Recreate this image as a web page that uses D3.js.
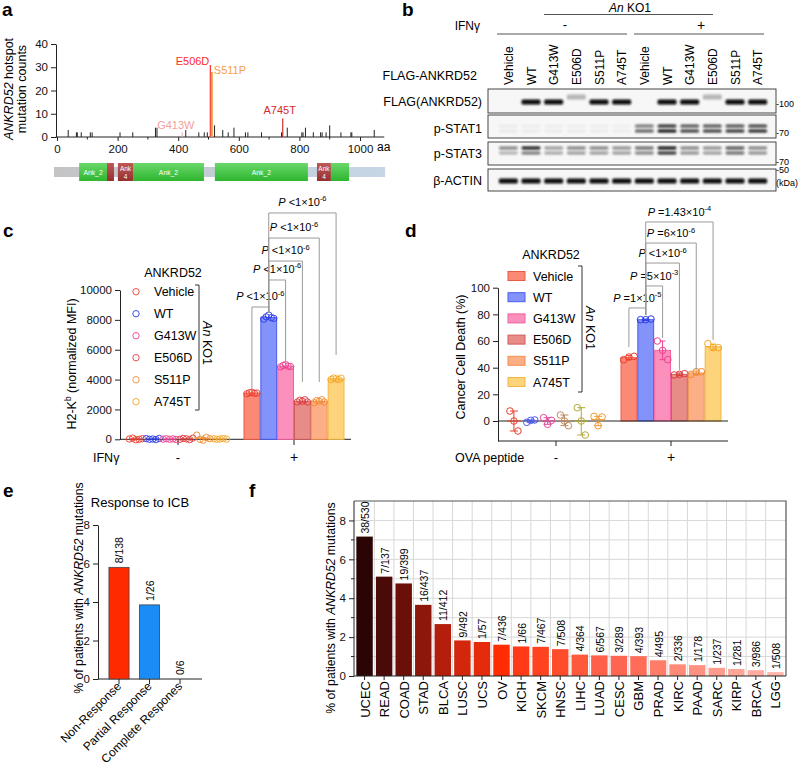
<!DOCTYPE html>
<html><head><meta charset="utf-8">
<script src="https://cdn.jsdelivr.net/npm/d3@7"></script>
<style>body{margin:0;background:#fff}svg{display:block}</style>
</head><body><svg id="fig" width="800" height="766"></svg>
<script>
// ================= DATA =================
// panel a
const aaTicks = [0, 200, 400, 600, 800, 1000];
const aaMinorTicks = [100, 300, 500, 700, 900];
const countTicks = [0, 10, 20, 30, 40];
const mutPositions = [37,64,67,80,110,116,208,250,325,330,425,468,486,496,520,547,565,584,622,630,675,741,760,808,812,820,846,870,875,888,900,937,970,973,1047];
const mutCounts    = [3, 2, 2, 2, 2, 2, 2, 2, 4, 4, 3, 2, 2, 2, 5, 3, 2, 4, 2, 2, 2, 2, 4, 2, 2, 4, 2, 2, 2, 2, 5, 2, 2, 2, 3];
const hotspotNames = ["G413W", "E506D", "S511P", "A745T"];
const hotspotPositions = [413, 506, 511, 745];
const hotspotCounts = [2, 31, 28, 8];
const domainNames = ["Ank_2", "", "Ank|4", "Ank_2", "Ank_2", "Ank|4", ""];
const domainStart = [73, 165, 201, 251, 521, 858, 904];
const domainEnd   = [165, 188, 251, 485, 828, 904, 964];
const domainKind  = ["g", "r", "r", "g", "g", "r", "g"];

// panel b (western blot band intensities, 0..1)
const laneLabels = ["Vehicle","WT","G413W","E506D","S511P","A745T","Vehicle","WT","G413W","E506D","S511P","A745T"];
const rowLabels = ["FLAG(ANKRD52)", "p-STAT1", "p-STAT3", "β-ACTIN"];
const flagBand    = [0, 1, 1, 0.28, 1, 1, 0, 1, 1, 0.28, 1, 1];
const pstat1Upper = [0.05,0.04,0.04,0.04,0.04,0.03, 0.55,0.85,0.7,0.7,0.72,0.78];
const pstat1Lower = [0.06,0.05,0.05,0.05,0.05,0.04, 0.65,1.0,0.8,0.8,0.85,0.9];
const pstat3Upper = [0.5,0.95,0.4,0.5,0.5,0.45, 0.6,1.0,0.5,0.45,0.7,0.5];
const pstat3Lower = [0.3,0.55,0.35,0.4,0.4,0.4, 0.5,0.85,0.45,0.4,0.6,0.45];
const actinBand   = [1,1,1,1,1,1,1,1,1,1,1,1];
const markerLabels = ["-100", "-70", "-70", "-50", "(kDa)"];

// panel c
const groups = ["-", "+"];
const constructs = ["Vehicle", "WT", "G413W", "E506D", "S511P", "A745T"];
const cTicks = [0, 2000, 4000, 6000, 8000, 10000];
const cPlusMeans = [3100, 8150, 4900, 2550, 2550, 4050];
const cPlusPoints = [
  [3050, 3120, 3150, 3080, 3100],
  [8050, 8200, 8320, 8150, 8100],
  [4850, 4950, 5000, 4900, 4870],
  [2500, 2620, 2550, 2650, 2500],
  [2450, 2600, 2550, 2650, 2500],
  [4000, 4100, 4050, 4000, 4100]];
const cMinusPoints = [
  [20, 80, -30, 0, 40],
  [50, 0, 20, -20, 60],
  [10, 40, 0, 30, -10],
  [0, 60, 30, -20, 80],
  [280, 0, -60, 120, 40],
  [30, 0, 20, 50, 10]];
const cSigLeft = [0, 1, 1, 1, 1];
const cSigRight = [1, 2, 3, 4, 5];
const cSigTop = [8860, 10670, 11940, 13480, 15160];
const cSigLeftEnd = [3300, 8460, 8460, 8460, 8460];
const cSigRightEnd = [8460, 5100, 3840, 3840, 5650];
const cSigText = ["<1×10", "<1×10", "<1×10", "<1×10", "<1×10"];
const cSigExp = ["-6", "-6", "-6", "-6", "-6"];

// panel d
const dTicks = [0, 20, 40, 60, 80, 100];
const dPlusMeans = [47.5, 76, 53, 35, 36, 55.7];
const dPlusErr = [1.5, 0.5, 7, 1, 1.5, 2];
const dPlusPoints = [
  [46, 48, 48.5], [76, 76, 76.5], [60, 53, 46],
  [34.5, 35, 35.5], [35, 37, 37], [58, 55, 55]];
const dMinusPoints = [
  [7.5, 0, -7.5], [-1, 0.5, 0.8], [2.5, -2.5, 0.5],
  [4.5, 0, -3.5], [10, 0, -10.5], [3.5, -3.5, 3]];
const dSigLeft = [0, 1, 1, 1, 1];
const dSigRight = [1, 2, 3, 4, 5];
const dSigTop = [84.8, 101.3, 118.5, 133.5, 149.3];
const dSigLeftEnd = [55.5, 79.5, 79.5, 79.5, 79.5];
const dSigRightEnd = [79.5, 62.3, 38.3, 38.3, 60.8];
const dSigText = ["=1×10", "=5×10", "<1×10", "=6×10", "=1.43×10"];
const dSigExp = ["-5", "-3", "-6", "-6", "-4"];

// panel e
const responseCats = ["Non-Response", "Partial Response", "Complete Respones"];
const responseValues = [5.8, 3.85, 0];
const responseLabels = ["8/138", "1/26", "0/6"];
const eTicks = [0, 2, 4, 6, 8];

// panel f
const cancerTypes = ["UCEC","READ","COAD","STAD","BLCA","LUSC","UCS","OV","KICH","SKCM","HNSC","LIHC","LUAD","CESC","GBM","PRAD","KIRC","PAAD","SARC","KIRP","BRCA","LGG"];
const cancerValues = [7.17,5.11,4.76,3.66,2.67,1.83,1.75,1.61,1.52,1.50,1.38,1.10,1.06,1.04,1.02,0.81,0.60,0.56,0.42,0.36,0.30,0.20];
const cancerLabels = ["38/530","7/137","19/399","16/437","11/412","9/492","1/57","7/436","1/66","7/467","7/508","4/364","6/567","3/289","4/393","4/495","2/336","1/178","1/237","1/281","3/986","1/508"];
const fTicks = [0, 2, 4, 6, 8];
const fMinor = [1, 3, 5, 7];
const fGrid = [1, 2, 3, 4, 5, 6, 7, 8];

// ================= STYLE =================
const FONT = '"Liberation Sans", Arial, Helvetica, sans-serif';
const barFill   = ["#fa8a76", "#8393fa", "#fb90bc", "#e88c88", "#fcae86", "#fdd37c"];
const barStroke = ["#ee5a46", "#4a5cf0", "#f2609e", "#d05e5c", "#f2904e", "#f0b840"];
const ptStroke  = ["#ee3b2b", "#2a3ae8", "#ee3f8f", "#e03a3a", "#f08a30", "#f5a623"];
const dMinusColor = ["#e8402c", "#4a5cf0", "#e0509a", "#c08a60", "#b0a838", "#f09a30"];
const fColors = ["#2b0505","#4a0a07","#6c0f09","#8e170c","#b31e0d","#d2260d","#e52b0c","#ff2c04","#ff3a16","#ff421f","#ff4c2b","#ff593c","#ff6049","#ff6651","#ff6c58","#ff7c69","#ff8a78","#ff9180","#ff9b8d","#ffa598","#ffaba0","#ffb5ab"];
const intFmt = d3.format("d");

const svg = d3.select("#fig").style("font-family", FONT);
const defs = svg.append("defs");
defs.append("filter").attr("id", "blur").attr("x", "-20%").attr("y", "-100%").attr("width", "140%").attr("height", "300%")
  .append("feGaussianBlur").attr("stdDeviation", 0.8);
const gg = defs.append("linearGradient").attr("id", "gGreen").attr("x1", 0).attr("y1", 0).attr("x2", 0).attr("y2", 1);
gg.append("stop").attr("offset", 0).attr("stop-color", "#6ad86a");
gg.append("stop").attr("offset", 1).attr("stop-color", "#2eb52e");
const gr = defs.append("linearGradient").attr("id", "gRed").attr("x1", 0).attr("y1", 0).attr("x2", 0).attr("y2", 1);
gr.append("stop").attr("offset", 0).attr("stop-color", "#c05858");
gr.append("stop").attr("offset", 1).attr("stop-color", "#963030");
const gy = defs.append("linearGradient").attr("id", "gGrey").attr("x1", 0).attr("y1", 0).attr("x2", 1).attr("y2", 0);
gy.append("stop").attr("offset", 0).attr("stop-color", "#c4c4c4");
gy.append("stop").attr("offset", 1).attr("stop-color", "#c6d6e6");

function panelLabel(t, x, y) {
  svg.append("text").attr("x", x).attr("y", y).attr("font-size", 19).attr("font-weight", "bold").text(t);
}
function styleAxis(g, fs) {
  g.selectAll("path,line").attr("stroke", "#222").attr("stroke-width", 1);
  g.selectAll("text").attr("font-family", FONT).attr("font-size", fs).attr("fill", "#111");
}

// ================= PANEL A =================
panelLabel("a", 2, 16);
const xA = d3.scaleLinear().domain([0, 1000]).range([57, 360]);
const yA = d3.scaleLinear().domain([0, 40]).range([137, 44]);
const gA = svg.append("g");
const axA = gA.append("g").attr("transform", "translate(56,0)").call(d3.axisLeft(yA).tickValues(countTicks).tickFormat(intFmt).tickSize(5).tickSizeOuter(0).tickPadding(3));
styleAxis(axA, 11.5);
const axAx = gA.append("g").attr("transform", "translate(0,137)").call(d3.axisBottom(xA).tickValues(aaTicks).tickFormat(intFmt).tickSize(4).tickSizeOuter(0).tickPadding(4));
axAx.select(".domain").remove();
styleAxis(axAx, 11.5);
gA.append("line").attr("x1", xA(-4)).attr("x2", xA(1080)).attr("y1", 137).attr("y2", 137).attr("stroke", "#222");
gA.selectAll(".mt").data(aaMinorTicks).enter().append("line").attr("x1", d => xA(d)).attr("x2", d => xA(d))
  .attr("y1", 137).attr("y2", 139.5).attr("stroke", "#222");
gA.append("text").attr("x", 377).attr("y", 151).attr("font-size", 12).text("aa");
gA.selectAll(".mut").data(mutPositions).enter().append("line")
  .attr("x1", d => xA(d)).attr("x2", d => xA(d)).attr("y1", yA(0)).attr("y2", (d, i) => yA(mutCounts[i]))
  .attr("stroke", "#222").attr("stroke-width", 1);
const hsColor = ["#f4a09c", "#ff2a2a", "#f7a043", "#d42b2b"];
const hsWidth = [1, 1.2, 2, 1.2];
gA.selectAll(".hs").data(hotspotPositions).enter().append("line")
  .attr("x1", d => xA(d)).attr("x2", d => xA(d)).attr("y1", yA(0)).attr("y2", (d, i) => yA(hotspotCounts[i]))
  .attr("stroke", (d, i) => hsColor[i]).attr("stroke-width", (d, i) => hsWidth[i]);
const hsDx = [-25, -1, 2, -3];
const hsDy = [-3, 0, 2, -4];
const hsAnchor = ["start", "end", "start", "middle"];
gA.selectAll(".hsl").data(hotspotNames).enter().append("text")
  .attr("x", (d, i) => xA(hotspotPositions[i]) + hsDx[i])
  .attr("y", (d, i) => yA(hotspotCounts[i]) + hsDy[i])
  .attr("text-anchor", (d, i) => hsAnchor[i]).attr("font-size", 11)
  .attr("fill", (d, i) => hsColor[i]).text(d => d);
const yl = gA.append("text").attr("transform", "translate(13,89) rotate(-90)").attr("text-anchor", "middle").attr("font-size", 12.5);
yl.append("tspan").attr("font-style", "italic").text("ANKRD52");
yl.append("tspan").text(" hotspot");
gA.append("text").attr("transform", "translate(26,89) rotate(-90)").attr("text-anchor", "middle").attr("font-size", 12.5).text("mutation counts");
gA.append("rect").attr("x", xA(-10)).attr("width", xA(1083) - xA(-10)).attr("y", 167).attr("height", 10).attr("fill", "url(#gGrey)");
domainStart.forEach((s, i) => {
  const x0 = xA(s), x1 = xA(domainEnd[i]);
  gA.append("rect").attr("x", x0).attr("width", x1 - x0).attr("y", 163).attr("height", 18)
    .attr("fill", domainKind[i] === "g" ? "url(#gGreen)" : "url(#gRed)");
  const nm = domainNames[i];
  if (nm.includes("|")) {
    const parts = nm.split("|");
    gA.append("text").attr("x", (x0 + x1) / 2).attr("y", 170.5).attr("text-anchor", "middle").attr("font-size", 6.5).attr("fill", "#fff").text(parts[0]);
    gA.append("text").attr("x", (x0 + x1) / 2).attr("y", 179).attr("text-anchor", "middle").attr("font-size", 6.5).attr("fill", "#fff").text(parts[1]);
  } else if (nm) {
    gA.append("text").attr("x", (x0 + x1) / 2).attr("y", 174.5).attr("text-anchor", "middle").attr("font-size", 6.8).attr("fill", "#fff").text(nm);
  }
});

// ================= PANEL B =================
panelLabel("b", 402, 16);
const gB = svg.append("g");
const xB = d3.scaleBand().domain(d3.range(12)).range([497, 769]);
const lc = i => xB(i) + xB.bandwidth() / 2;
const kt = gB.append("text").attr("x", 630).attr("y", 11.5).attr("text-anchor", "middle").attr("font-size", 12);
kt.append("tspan").attr("font-style", "italic").text("An");
kt.append("tspan").text(" KO1");
gB.append("line").attr("x1", 544).attr("x2", 713).attr("y1", 14.5).attr("y2", 14.5).attr("stroke", "#555");
gB.append("text").attr("x", 480).attr("y", 30).attr("text-anchor", "end").attr("font-size", 12).text("IFNγ");
gB.append("text").attr("x", (lc(2) + lc(3)) / 2).attr("y", 29).attr("text-anchor", "middle").attr("font-size", 13).text("-");
gB.append("text").attr("x", (lc(8) + lc(9)) / 2).attr("y", 30).attr("text-anchor", "middle").attr("font-size", 14).text("+");
gB.append("line").attr("x1", 497).attr("x2", 627).attr("y1", 34).attr("y2", 34).attr("stroke", "#555");
gB.append("line").attr("x1", 634).attr("x2", 764).attr("y1", 34).attr("y2", 34).attr("stroke", "#555");
gB.selectAll(".ll").data(laneLabels).enter().append("text")
  .attr("transform", (d, i) => `translate(${lc(i) + 4.5},85) rotate(-90)`)
  .attr("font-size", 12).text(d => d);
gB.append("text").attr("x", 477).attr("y", 80).attr("text-anchor", "end").attr("font-size", 12.5).text("FLAG-ANKRD52");
const boxes = [[89, 113], [115, 138], [142, 165], [169, 191]];
const labelY = [106, 133, 158, 185];
rowLabels.forEach((r, i) => {
  gB.append("text").attr("x", 482).attr("y", labelY[i]).attr("text-anchor", "end").attr("font-size", 12.5).text(r);
  gB.append("rect").attr("x", 488).attr("y", boxes[i][0]).attr("width", 288).attr("height", boxes[i][1] - boxes[i][0])
    .attr("fill", "#f7f7f7").attr("stroke", "#333").attr("stroke-width", 0.9);
});
function bands(vals, cy, h, dyFn) {
  gB.selectAll(null).data(vals).enter().append("rect")
    .attr("x", (d, i) => lc(i) - 9.5).attr("width", 19)
    .attr("y", (d, i) => cy + (dyFn ? dyFn(i) : 0) - h / 2).attr("height", h).attr("rx", 1.5)
    .attr("fill", "#0d0d0d").attr("opacity", d => d).attr("filter", "url(#blur)");
}
bands(flagBand, 102, 5, i => (i === 3 || i === 9) ? -5 : 0);
bands(pstat1Upper, 126, 3);
bands(pstat1Lower, 131, 3.2);
bands(pstat3Upper, 148, 2.8);
bands(pstat3Lower, 153, 2.8);
bands(actinBand, 181, 5);
const mkY = [107, 136, 164.5, 173, 185.5];
markerLabels.forEach((m, i) => {
  gB.append("text").attr("x", 776).attr("y", mkY[i]).attr("font-size", 9).text(m);
});

// ================= helpers for c / d =================
function pText(g, x, y, rel, exp) {
  const t = g.append("text").attr("x", x).attr("y", y).attr("text-anchor", "middle").attr("font-size", 11);
  t.append("tspan").attr("font-style", "italic").text("P");
  t.append("tspan").text(" " + rel);
  t.append("tspan").attr("dy", -4.5).attr("font-size", 7.5).text(exp);
}
const inner = d3.scaleBand().domain(constructs).range([-50, 50]).paddingInner(0.06);
const ic = c => inner(c) + inner.bandwidth() / 2;

// ================= PANEL C =================
panelLabel("c", 3, 237);
const gC = svg.append("g");
const xC = d3.scalePoint().domain(groups).range([178, 294]);
const yC = d3.scaleLinear().domain([0, 10000]).range([439.3, 290]);
const axC = gC.append("g").attr("transform", "translate(120,0)").call(d3.axisLeft(yC).tickValues(cTicks).tickFormat(intFmt).tickSize(5).tickSizeOuter(0).tickPadding(3));
styleAxis(axC, 11.5);
gC.append("line").attr("x1", 120).attr("x2", 351).attr("y1", 439.3).attr("y2", 439.3).attr("stroke", "#222");
groups.forEach(g => {
  gC.append("line").attr("x1", xC(g)).attr("x2", xC(g)).attr("y1", 439.3).attr("y2", 445).attr("stroke", "#222");
  gC.append("text").attr("x", xC(g)).attr("y", 462).attr("text-anchor", "middle").attr("font-size", g === "+" ? 14 : 13).text(g);
});
gC.append("text").attr("x", 93).attr("y", 462).attr("font-size", 12.5).text("IFNγ");
const ylc = gC.append("text").attr("transform", "translate(76,364) rotate(-90)").attr("text-anchor", "middle").attr("font-size", 12.5);
ylc.append("tspan").text("H2-K");
ylc.append("tspan").attr("dy", -5).attr("font-size", 8.5).text("b");
ylc.append("tspan").attr("dy", 5).text(" (normalized MFI)");
gC.selectAll(".bar").data(constructs).enter().append("rect")
  .attr("x", c => xC("+") + inner(c)).attr("width", inner.bandwidth())
  .attr("y", (c, i) => yC(cPlusMeans[i])).attr("height", (c, i) => yC(0) - yC(cPlusMeans[i]))
  .attr("fill", (c, i) => barFill[i]).attr("stroke", (c, i) => barStroke[i]).attr("stroke-width", 1);
const jit5 = [-5, -2.5, 0, 2.5, 5];
constructs.forEach((c, i) => {
  cPlusPoints[i].forEach((v, j) => {
    gC.append("circle").attr("cx", xC("+") + ic(c) + jit5[j]).attr("cy", yC(v)).attr("r", 3.2)
      .attr("fill", "none").attr("stroke", ptStroke[i]).attr("stroke-width", 0.9);
  });
  const m = d3.mean(cMinusPoints[i]);
  gC.append("line").attr("x1", xC("-") + ic(c) - 6).attr("x2", xC("-") + ic(c) + 6)
    .attr("y1", yC(m)).attr("y2", yC(m)).attr("stroke", ptStroke[i]).attr("stroke-width", 1.2);
  gC.append("line").attr("x1", xC("-") + ic(c)).attr("x2", xC("-") + ic(c))
    .attr("y1", yC(d3.min(cMinusPoints[i]))).attr("y2", yC(d3.max(cMinusPoints[i]))).attr("stroke", ptStroke[i]);
  cMinusPoints[i].forEach((v, j) => {
    gC.append("circle").attr("cx", xC("-") + ic(c) + jit5[j] * 1.3).attr("cy", yC(v)).attr("r", 3.2)
      .attr("fill", "none").attr("stroke", ptStroke[i]).attr("stroke-width", 0.9);
  });
});
gC.append("text").attr("x", 173).attr("y", 277).attr("text-anchor", "middle").attr("font-size", 12.5).text("ANKRD52");
constructs.forEach((c, i) => {
  const y = 291.7 + i * 22;
  gC.append("circle").attr("cx", 136).attr("cy", y).attr("r", 3.2).attr("fill", "none").attr("stroke", ptStroke[i]).attr("stroke-width", 0.9);
  gC.append("text").attr("x", 154).attr("y", y + 4.5).attr("font-size", 12.5).text(c);
});
gC.append("path").attr("d", "M195,285H199V410H195").attr("fill", "none").attr("stroke", "#333");
const ktc = gC.append("text").attr("transform", "translate(203,343) rotate(90)").attr("text-anchor", "middle").attr("font-size", 12.5);
ktc.append("tspan").attr("font-style", "italic").text("An");
ktc.append("tspan").text(" KO1");
cSigLeft.forEach((l, k) => {
  const lx = xC("+") + ic(constructs[l]), rx = xC("+") + ic(constructs[cSigRight[k]]);
  const top = yC(cSigTop[k]);
  gC.append("path").attr("d", `M${lx},${yC(cSigLeftEnd[k])}V${top}H${rx}V${yC(cSigRightEnd[k])}`)
    .attr("fill", "none").attr("stroke", "#9a9a9a").attr("stroke-width", 1);
  pText(gC, (lx + rx) / 2, top - 7, cSigText[k], cSigExp[k]);
});

// ================= PANEL D =================
panelLabel("d", 405, 237);
const gD = svg.append("g");
const xD = d3.scalePoint().domain(groups).range([556, 671]);
const yD = d3.scaleLinear().domain([-15, 100]).range([441, 287.7]);
const axD = gD.append("g").attr("transform", "translate(498,0)").call(d3.axisLeft(yD).tickValues(dTicks).tickFormat(intFmt).tickSize(5).tickSizeOuter(0).tickPadding(3));
styleAxis(axD, 11.5);
gD.append("line").attr("x1", 498).attr("x2", 728).attr("y1", yD(-15)).attr("y2", yD(-15)).attr("stroke", "#222");
groups.forEach(g => {
  gD.append("line").attr("x1", xD(g)).attr("x2", xD(g)).attr("y1", yD(-15)).attr("y2", yD(-15) + 5).attr("stroke", "#222");
  gD.append("text").attr("x", xD(g)).attr("y", 462).attr("text-anchor", "middle").attr("font-size", g === "+" ? 14 : 13).text(g);
});
gD.append("text").attr("x", 455).attr("y", 462).attr("font-size", 12.5).text("OVA peptide");
gD.append("text").attr("transform", "translate(465,357) rotate(-90)").attr("text-anchor", "middle").attr("font-size", 12.5).text("Cancer Cell Death (%)");
gD.selectAll(".bar").data(constructs).enter().append("rect")
  .attr("x", c => xD("+") + inner(c)).attr("width", inner.bandwidth())
  .attr("y", (c, i) => yD(dPlusMeans[i])).attr("height", (c, i) => yD(0) - yD(dPlusMeans[i]))
  .attr("fill", (c, i) => barFill[i]).attr("stroke", (c, i) => barStroke[i]).attr("stroke-width", 1);
gD.append("line").attr("x1", 498).attr("x2", 728).attr("y1", yD(0)).attr("y2", yD(0)).attr("stroke", "#222");
const jit3 = [-4, 0, 4];
constructs.forEach((c, i) => {
  const cx = xD("+") + ic(c);
  const lo = dPlusMeans[i] - dPlusErr[i], hi = dPlusMeans[i] + dPlusErr[i];
  gD.append("path").attr("d", `M${cx - 3},${yD(hi)}H${cx + 3}M${cx},${yD(hi)}V${yD(lo)}M${cx - 3},${yD(lo)}H${cx + 3}`)
    .attr("stroke", ptStroke[i]).attr("fill", "none");
  dPlusPoints[i].forEach((v, j) => {
    gD.append("circle").attr("cx", cx + jit3[j] * 1.3).attr("cy", yD(v)).attr("r", 3.3)
      .attr("fill", "none").attr("stroke", ptStroke[i]).attr("stroke-width", 1);
  });
  const mx = xD("-") + ic(c), pts = dMinusPoints[i], m = d3.mean(pts);
  gD.append("path").attr("d", `M${mx - 4},${yD(d3.max(pts))}H${mx + 4}M${mx},${yD(d3.max(pts))}V${yD(d3.min(pts))}M${mx - 4},${yD(d3.min(pts))}H${mx + 4}M${mx - 7},${yD(m)}H${mx + 7}`)
    .attr("stroke", dMinusColor[i]).attr("fill", "none");
  pts.forEach((v, j) => {
    gD.append("circle").attr("cx", mx + jit3[j]).attr("cy", yD(v)).attr("r", 3.3)
      .attr("fill", "none").attr("stroke", dMinusColor[i]).attr("stroke-width", 1);
  });
});
gD.append("text").attr("x", 551).attr("y", 259).attr("text-anchor", "middle").attr("font-size", 12.5).text("ANKRD52");
constructs.forEach((c, i) => {
  const y = 276 + i * 21.2;
  gD.append("rect").attr("x", 508).attr("y", y - 4.5).attr("width", 17).attr("height", 9)
    .attr("fill", barFill[i]).attr("stroke", barStroke[i]);
  gD.append("text").attr("x", 533).attr("y", y + 4.5).attr("font-size", 12.5).text(c);
});
gD.append("path").attr("d", "M578,266H582V392H578").attr("fill", "none").attr("stroke", "#333");
const ktd = gD.append("text").attr("transform", "translate(586,328) rotate(90)").attr("text-anchor", "middle").attr("font-size", 12.5);
ktd.append("tspan").attr("font-style", "italic").text("An");
ktd.append("tspan").text(" KO1");
dSigLeft.forEach((l, k) => {
  const lx = xD("+") + ic(constructs[l]), rx = xD("+") + ic(constructs[dSigRight[k]]);
  const top = yD(dSigTop[k]);
  gD.append("path").attr("d", `M${lx},${yD(dSigLeftEnd[k])}V${top}H${rx}V${yD(dSigRightEnd[k])}`)
    .attr("fill", "none").attr("stroke", "#9a9a9a").attr("stroke-width", 1);
  pText(gD, (lx + rx) / 2, top - 6, dSigText[k], dSigExp[k]);
});

// ================= PANEL E =================
panelLabel("e", 3, 497);
const gE = svg.append("g");
const xE = d3.scaleBand().domain(responseCats).range([103.75, 195.25]).paddingInner(0.34).paddingOuter(0.17);
const yE = d3.scaleLinear().domain([0, 8]).range([679, 525]);
const axE = gE.append("g").attr("transform", "translate(98,0)").call(d3.axisLeft(yE).tickValues(eTicks).tickSize(5).tickSizeOuter(0).tickPadding(3));
styleAxis(axE, 11.5);
gE.append("line").attr("x1", 98).attr("x2", 202).attr("y1", 679).attr("y2", 679).attr("stroke", "#222");
const eFill = ["#ff2a00", "#1b8cf5", "#888"];
gE.selectAll(".bar").data(responseCats).enter().append("rect")
  .attr("x", c => xE(c)).attr("width", xE.bandwidth())
  .attr("y", (c, i) => yE(responseValues[i])).attr("height", (c, i) => yE(0) - yE(responseValues[i]))
  .attr("fill", (c, i) => eFill[i]).attr("stroke", "#444").attr("stroke-width", 0.8);
responseCats.forEach((c, i) => {
  const cx = xE(c) + xE.bandwidth() / 2;
  gE.append("line").attr("x1", cx).attr("x2", cx).attr("y1", 679).attr("y2", 684).attr("stroke", "#222");
  gE.append("text").attr("transform", `translate(${cx + 4},${yE(responseValues[i]) - 4}) rotate(-90)`).attr("font-size", 10.5).text(responseLabels[i]);
  gE.append("text").attr("transform", `translate(${cx + 3},687) rotate(-45)`).attr("text-anchor", "end").attr("font-size", 12).text(c);
});
gE.append("text").attr("x", 140).attr("y", 507).attr("text-anchor", "middle").attr("font-size", 13).text("Response to ICB");
const yle = gE.append("text").attr("transform", "translate(83,588) rotate(-90)").attr("text-anchor", "middle").attr("font-size", 12.2);
yle.append("tspan").text("% of patients with ");
yle.append("tspan").attr("font-style", "italic").text("ANKRD52");
yle.append("tspan").text(" mutations");

// ================= PANEL F =================
panelLabel("f", 249, 497);
const gF = svg.append("g");
const fRight = 786;
const xF = d3.scaleBand().domain(cancerTypes).range([354, fRight]).paddingInner(0.16).paddingOuter(0.12);
const yF = d3.scaleLinear().domain([0, 9]).range([676, 501]);
gF.selectAll(".hg").data(fGrid).enter().append("line").attr("x1", 354).attr("x2", fRight)
  .attr("y1", d => yF(d)).attr("y2", d => yF(d)).attr("stroke", "#d8d8d8").attr("stroke-width", 1);
gF.selectAll(".vg").data(cancerTypes.slice(1)).enter().append("line")
  .attr("x1", d => xF(d) - xF.step() * xF.paddingInner() / 2).attr("x2", d => xF(d) - xF.step() * xF.paddingInner() / 2)
  .attr("y1", yF(9)).attr("y2", yF(0)).attr("stroke", "#d8d8d8").attr("stroke-width", 1);
gF.append("path").attr("d", `M354,${yF(9)}H${fRight}V${yF(0)}`).attr("fill", "none").attr("stroke", "#555").attr("stroke-width", 1.2);
gF.selectAll(".bar").data(cancerTypes).enter().append("rect")
  .attr("x", d => xF(d)).attr("width", xF.bandwidth())
  .attr("y", (d, i) => yF(cancerValues[i])).attr("height", (d, i) => yF(0) - yF(cancerValues[i]))
  .attr("fill", (d, i) => fColors[i]);
const axF = gF.append("g").attr("transform", "translate(354,0)").call(d3.axisLeft(yF).tickValues(fTicks).tickSize(5).tickSizeOuter(0).tickPadding(3));
styleAxis(axF, 11.5);
axF.select(".domain").attr("d", `M0,${yF(9)}V${yF(0)}`);
gF.selectAll(".mn").data(fMinor).enter().append("line").attr("x1", 351).attr("x2", 354)
  .attr("y1", d => yF(d)).attr("y2", d => yF(d)).attr("stroke", "#222");
gF.append("line").attr("x1", 354).attr("x2", fRight).attr("y1", yF(0)).attr("y2", yF(0)).attr("stroke", "#222");
cancerTypes.forEach((c, i) => {
  const cx = xF(c) + xF.bandwidth() / 2;
  gF.append("line").attr("x1", cx).attr("x2", cx).attr("y1", yF(0)).attr("y2", yF(0) + 4).attr("stroke", "#222");
  gF.append("text").attr("transform", `translate(${cx + 4.5},${yF(cancerValues[i]) - 3}) rotate(-90)`).attr("font-size", 10.5).text(cancerLabels[i]);
  gF.append("text").attr("transform", `translate(${cx + 5},681) rotate(-90)`).attr("text-anchor", "end").attr("font-size", 13).text(c);
});
const ylf = gF.append("text").attr("transform", "translate(335,608) rotate(-90)").attr("text-anchor", "middle").attr("font-size", 12.2);
ylf.append("tspan").text("% of patients with ");
ylf.append("tspan").attr("font-style", "italic").text("ANKRD52");
ylf.append("tspan").text(" mutations");
</script></body></html>
